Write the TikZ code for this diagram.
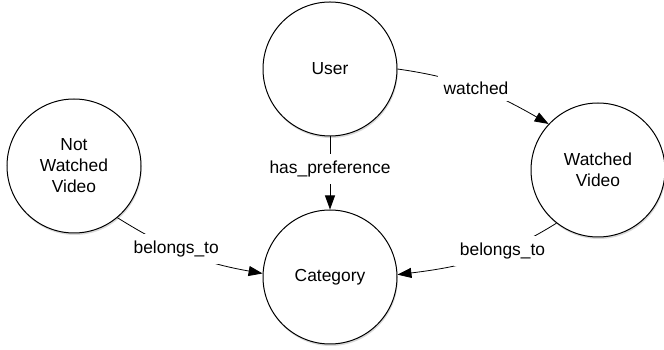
\documentclass[tikz,border=0pt]{standalone}
\usepackage{fontspec}
\setmainfont{Liberation Sans}
\usetikzlibrary{arrows.meta,shadows}

\begin{document}
\begin{tikzpicture}[x=1pt,y=1pt,
    entity/.style={circle,draw,line width=1pt,fill=white,minimum size=134pt,inner sep=0pt,align=center,
        font=\fontsize{17.4}{21}\selectfont,
        drop shadow={shadow xshift=0.8pt,shadow yshift=-2pt,opacity=.3}},
    rel/.style={line width=0.8pt,-{Triangle[length=14pt,width=10pt]}},
    lbl/.style={fill=white,inner xsep=6pt,inner ysep=7pt,font=\fontsize{17.4}{21}\selectfont}]
    \useasboundingbox(0,0)rectangle(664,350);
    \node[entity](user)at(330,281){User};
    \node[entity](category)at(330,73){Category};
    \node[entity](notwatched)at(74,184){Not\\Watched\\Video};
    \node[entity](watched)at(598,180){Watched\\Video};
    \draw[rel](user.east)to[out=-8,in=150]node[lbl,pos=.5]{watched}(watched.137);
    \draw[rel](user)--node[lbl,pos=.45]{has\_preference}(category);
    \draw[rel](notwatched.-50)to[out=-32,in=170]node[lbl,pos=.42]{belongs\_to}(category.177);
    \draw[rel](watched.232)to[out=212,in=7]node[lbl,pos=.35]{belongs\_to}(category.2);
\end{tikzpicture}
\end{document}
